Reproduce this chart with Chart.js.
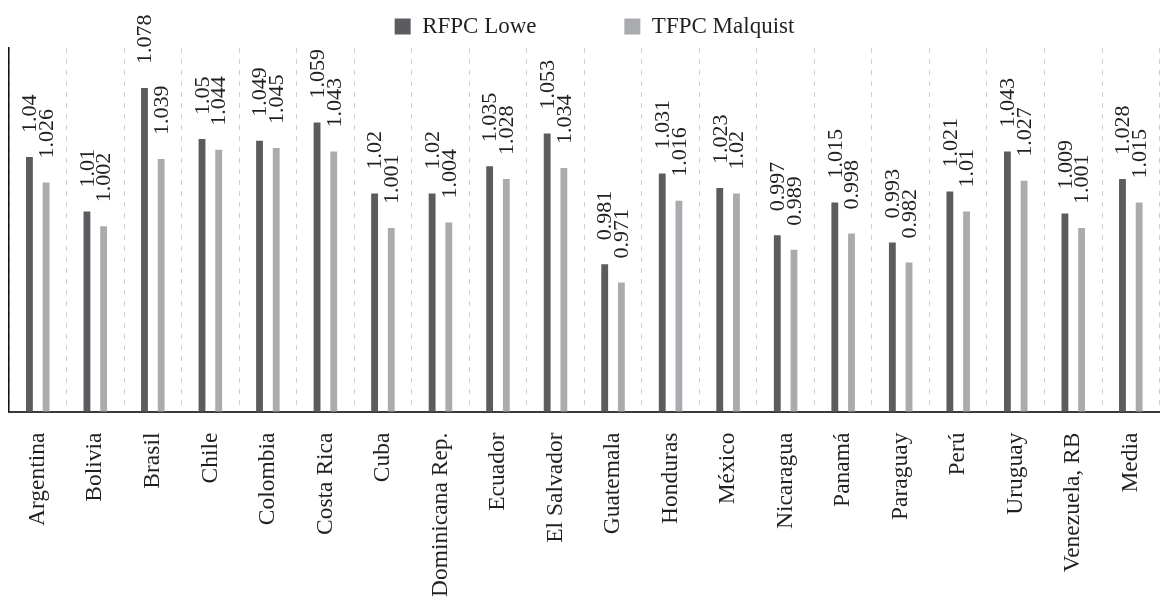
<!DOCTYPE html>
<html>
<head>
<meta charset="utf-8">
<script src="https://cdn.jsdelivr.net/npm/chart.js@4"></script>
<style>
  html, body { margin: 0; padding: 0; background: #fff; overflow: hidden; }
  #wrap { width: 1166px; height: 599px; overflow: hidden; }
</style>
</head>
<body>
<div id="wrap"><canvas id="chart" width="1180" height="599"></canvas></div>
<script>
const countries = ["Argentina", "Bolivia", "Brasil", "Chile", "Colombia", "Costa Rica", "Cuba",
  "Dominicana Rep.", "Ecuador", "El Salvador", "Guatemala", "Honduras", "México", "Nicaragua",
  "Panamá", "Paraguay", "Perú", "Uruguay", "Venezuela, RB", "Media"];
const rfpcLowe = [1.04, 1.01, 1.078, 1.05, 1.049, 1.059, 1.02, 1.02, 1.035, 1.053,
  0.981, 1.031, 1.023, 0.997, 1.015, 0.993, 1.021, 1.043, 1.009, 1.028];
const tfpcMalquist = [1.026, 1.002, 1.039, 1.044, 1.045, 1.043, 1.001, 1.004, 1.028, 1.034,
  0.971, 1.016, 1.02, 0.989, 0.998, 0.982, 1.01, 1.027, 1.001, 1.015];

const FONT = "'Liberation Serif', 'DejaVu Serif', serif";

// value labels, rotated, above each bar
const barLabels = {
  id: "barLabels",
  afterDatasetsDraw(chart) {
    const ctx = chart.ctx;
    ctx.save();
    ctx.font = "22px " + FONT;
    ctx.fillStyle = "#231f20";
    ctx.textAlign = "left";
    ctx.textBaseline = "middle";
    chart.data.datasets.forEach((ds, i) => {
      chart.getDatasetMeta(i).data.forEach((bar, j) => {
        ctx.save();
        ctx.translate(bar.x + 1, bar.y - 24);
        ctx.rotate(-Math.PI / 2);
        ctx.fillText(String(ds.data[j]), 0, 0);
        ctx.restore();
      });
    });
    ctx.restore();
  }
};

new Chart(document.getElementById("chart"), {
  type: "bar",
  data: {
    labels: countries,
    datasets: [
      {
        label: "RFPC Lowe\u2003\u2003\u2003\u2006",
        data: rfpcLowe,
        backgroundColor: "#5b5c60",
        categoryPercentage: 0.58,
        barPercentage: 0.41
      },
      {
        label: "TFPC Malquist",
        data: tfpcMalquist,
        backgroundColor: "#a9abae",
        categoryPercentage: 0.58,
        barPercentage: 0.41
      }
    ]
  },
  options: {
    responsive: false,
    animation: false,
    layout: { padding: { left: 9, right: 0, top: 0, bottom: -19 } },
    scales: {
      x: {
        grid: {
          offset: true,
          color: "#cfcfcf",
          lineWidth: 1,
          drawTicks: false
        },
        border: { color: "#3a3a3a", width: 2, dash: [5, 6] },
        ticks: {
          autoSkip: false,
          minRotation: 90,
          maxRotation: 90,
          padding: 21,
          color: "#231f20",
          font: { family: FONT, size: 23.5 }
        }
      },
      y: {
        min: 0.9,
        max: 1.1,
        grid: { display: false, drawTicks: false },
        border: { color: "#111", width: 1.5 },
        ticks: { display: false }
      }
    },
    plugins: {
      legend: {
        position: "top",
        labels: {
          boxWidth: 16,
          boxHeight: 16,
          padding: 15,
          color: "#231f20",
          font: { family: FONT, size: 23 }
        }
      },
      tooltip: { enabled: false }
    }
  },
  plugins: [barLabels]
});
</script>
</body>
</html>
